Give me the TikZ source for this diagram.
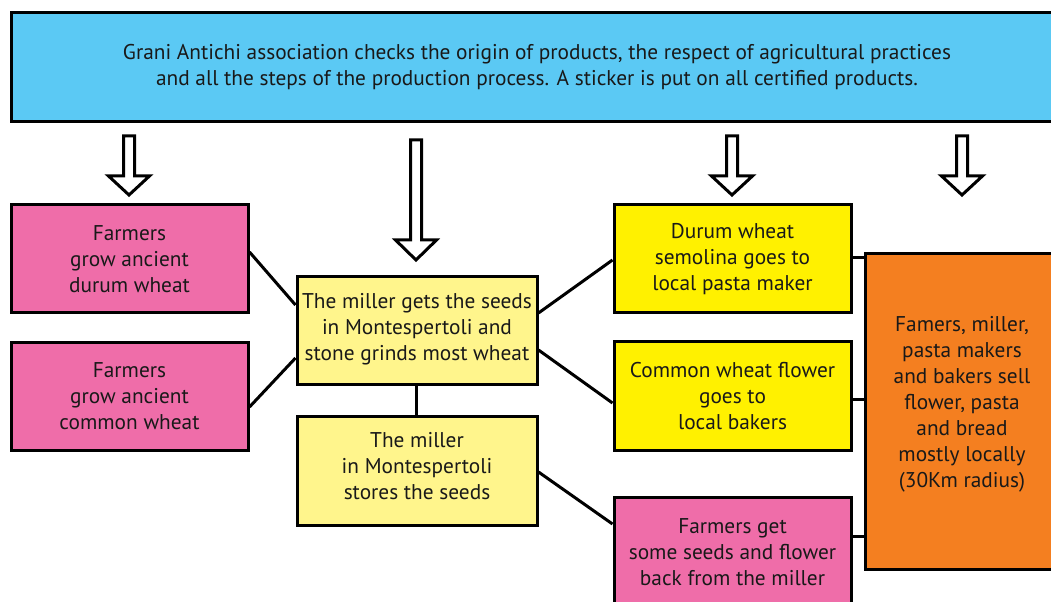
\documentclass[tikz,border=0pt]{standalone}
\usepackage{fontspec}
\setmainfont{PT Sans}
\usetikzlibrary{calc}
\definecolor{skyblue}{HTML}{5BC9F4}
\definecolor{pinkbox}{HTML}{EF6DA9}
\definecolor{paleyellow}{HTML}{FFF58C}
\definecolor{brightyellow}{HTML}{FFF100}
\definecolor{orangebox}{HTML}{F47F20}
\newcommand{\hollowdown}[4]{\draw[hollowarrow] (#1-5.5,#2) -- (#1+5.5,#2) -- (#1+5.5,#3) -- (#1+20.5,#3) -- (#1,#4) -- (#1-20.5,#3) -- (#1-5.5,#3) -- cycle;}
\begin{document}
\begin{tikzpicture}[x=0.75pt,y=-0.75pt,
  box/.style={draw=black, line width=2.25pt, align=center, inner sep=0pt,
    font=\fontsize{16}{19.5}\selectfont, text=black!90},
  link/.style={draw=black, line width=2.25pt},
  hollowarrow/.style={draw=black, line width=2.25pt, fill=white, line join=miter}]
\clip (0,0) rectangle (1051,602);
\fill[white] (0,0) rectangle (1051,602);
\node[box, fill=skyblue, minimum width=789pt, minimum height=81.75pt] (top) at (537,67.5)
 {Grani Antichi association checks the origin of products, the respect of agricultural practices\\and all the steps of the production process. A sticker is put on all certified products.};
\node[box, fill=pinkbox, minimum width=177.75pt, minimum height=81pt] (p1) at (129.5,259)
 {Farmers\\grow ancient\\durum wheat};
\node[box, fill=pinkbox, minimum width=177.75pt, minimum height=81pt] (p2) at (129.5,396.5)
 {Farmers\\grow ancient\\common wheat};
\node[box, fill=paleyellow, minimum width=180pt, minimum height=81pt] (m1) at (417,331)
 {The miller gets the seeds\\in Montespertoli and\\stone grinds most wheat\\[-13.5pt]};
\node[box, fill=paleyellow, minimum width=180pt, minimum height=81.75pt] (m2) at (417,471.5)
 {The miller\\in Montespertoli\\stores the seeds\\[-11.25pt]};
\node[box, fill=brightyellow, minimum width=177.75pt, minimum height=81pt] (d) at (732.5,259)
 {Durum wheat\\semolina goes to\\local pasta maker};
\node[box, fill=brightyellow, minimum width=177.75pt, minimum height=81.75pt] (c) at (732.5,396.5)
 {Common wheat flower\\goes to\\local bakers};
\node[box, fill=pinkbox, minimum width=177.75pt, minimum height=81pt] (f) at (732.5,552)
 {Farmers get\\some seeds and flower\\back from the miller};
\node[box, fill=orangebox, minimum width=145.5pt, minimum height=237pt] (o) at (962,412)
 {Famers, miller,\\pasta makers\\and bakers sell\\flower, pasta\\and bread\\mostly locally\\(30Km radius)\\[-3.75pt]};
\hollowdown{129}{136}{176}{195}
\hollowdown{416}{140}{240}{260}
\hollowdown{732}{136}{176}{195}
\hollowdown{962}{136}{176}{195}
\draw[link] ($(p1.east)+(0,-7)$) -- ($(m1.west)+(0,-26)$);
\draw[link] ($(p2.east)+(0,10.5)$) -- ($(m1.west)+(0,27)$);
\draw[link] ($(m1.east)+(0,-18)$) -- ($(d.west)+(0,1)$);
\draw[link] ($(m1.east)+(0,19)$) -- ($(c.west)+(0,6.5)$);
\draw[link] ($(m2.east)+(0,0.5)$) -- ($(f.west)+(0,-28)$);
\draw[link] (m1.south -| 416,0) -- (m2.north -| 416,0);
\draw[link] ($(d.east)+(0,-1)$) -- ($(d.east -| o.west)+(0,-1)$);
\draw[link] ($(c.east)+(0,3.5)$) -- ($(c.east -| o.west)+(0,3.5)$);
\draw[link] ($(f.east)+(0,-15)$) -- ($(f.east -| o.west)+(0,-15)$);
\end{tikzpicture}
\end{document}
